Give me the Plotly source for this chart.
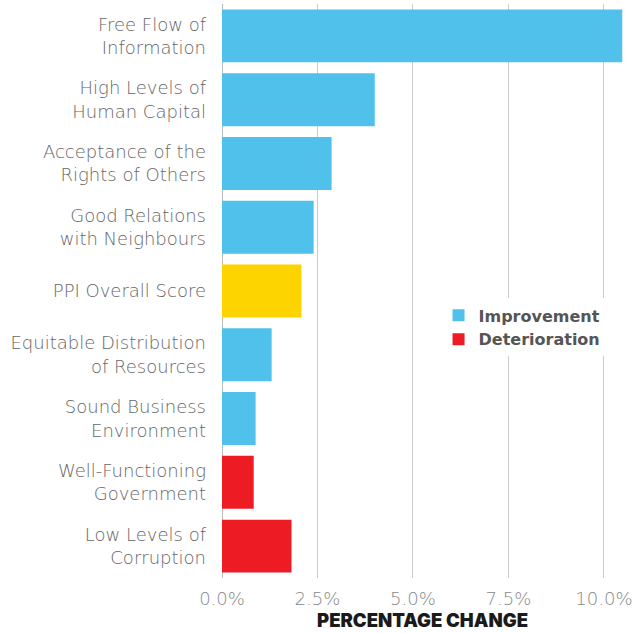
import plotly.graph_objects as go

# Pillar-level change in the Positive Peace Index
categories = [
    "Free Flow of<br>Information",
    "High Levels of<br>Human Capital",
    "Acceptance of the<br>Rights of Others",
    "Good Relations<br>with Neighbours",
    "PPI Overall Score",
    "Equitable Distribution<br>of Resources",
    "Sound Business<br>Environment",
    "Well-Functioning<br>Government",
    "Low Levels of<br>Corruption",
]
change_pct = [10.48, 4.0, 2.87, 2.40, 2.08, 1.30, 0.88, 0.83, 1.82]
direction = [
    "Improvement", "Improvement", "Improvement", "Improvement", "Overall",
    "Improvement", "Improvement", "Deterioration", "Deterioration",
]
tick_vals = [0, 2.5, 5, 7.5, 10]
tick_text = ["0.0%", "2.5%", "5.0%", "7.5%", "10.0%"]

colors = {"Improvement": "#50C1EB", "Deterioration": "#ED1C24", "Overall": "#FDD400"}

fig = go.Figure()
for group in ["Improvement", "Deterioration", "Overall"]:
    ys = [c for c, d in zip(categories, direction) if d == group]
    xs = [v for v, d in zip(change_pct, direction) if d == group]
    fig.add_trace(go.Bar(
        x=xs, y=ys, orientation="h", name=group,
        marker=dict(color=colors[group], line=dict(width=0)),
        showlegend=(group != "Overall"),
    ))

label_font = dict(family="DejaVu Sans", size=18, color="#666666", weight=200)

fig.update_layout(
    width=635, height=633,
    margin=dict(l=222, r=12, t=4, b=55),
    paper_bgcolor="white", plot_bgcolor="white",
    barmode="overlay", bargap=0.17,
    showlegend=True,
    legend=dict(
        x=0.54, y=0.487, xanchor="left", yanchor="top",
        bgcolor="white", borderwidth=0,
        font=dict(family="DejaVu Sans", size=16, color="#555555", weight="bold"),
        traceorder="normal", itemclick=False,
    ),
    xaxis=dict(
        range=[0, 10.5], tickvals=tick_vals, ticktext=tick_text,
        showgrid=True, gridcolor="#cccccc", gridwidth=1,
        zeroline=True, zerolinecolor="#bbbbbb", zerolinewidth=1,
        showline=False, ticks="", ticklabelstandoff=8,
        tickfont=dict(family="DejaVu Sans", size=18, color="#888888", weight=200),
        title=dict(text="PERCENTAGE CHANGE", standoff=6,
                   font=dict(family="Inter", size=18.5, color="#1a1a1a", weight=900)),
    ),
    yaxis=dict(
        categoryorder="array", categoryarray=categories,
        autorange="reversed", showgrid=False, ticks="", showline=False,
        tickfont=label_font, ticklabelstandoff=15,
    ),
)

fig.write_html("out.html")
